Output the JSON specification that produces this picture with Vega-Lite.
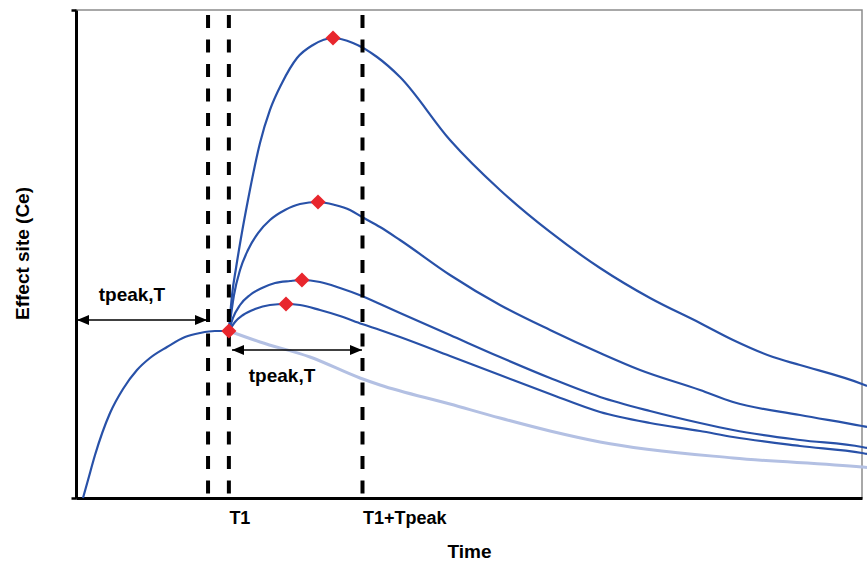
{
  "$schema": "https://vega.github.io/schema/vega-lite/v6.json",
  "width": 786,
  "height": 488,
  "autosize": "none",
  "padding": {"left": 76, "top": 10, "right": 5, "bottom": 68},
  "background": "white",
  "config": {
    "view": {"stroke": "#8c8c8c", "strokeWidth": 1.5},
    "axis": {"grid": false},
    "text": {"font": "Liberation Sans"}
  },
  "datasets": {
    "curves": [
      {"series": "induction", "t": 0.89, "ce": 0},
      {"series": "induction", "t": 1.53, "ce": 3.69},
      {"series": "induction", "t": 2.42, "ce": 8.81},
      {"series": "induction", "t": 4.33, "ce": 17.42},
      {"series": "induction", "t": 5.98, "ce": 22.34},
      {"series": "induction", "t": 7.76, "ce": 26.23},
      {"series": "induction", "t": 9.41, "ce": 28.69},
      {"series": "induction", "t": 11.58, "ce": 30.94},
      {"series": "induction", "t": 13.87, "ce": 32.99},
      {"series": "induction", "t": 15.78, "ce": 33.81},
      {"series": "induction", "t": 17.68, "ce": 34.22},
      {"series": "induction", "t": 19.45, "ce": 34.22},

      {"series": "no second dose", "t": 19.45, "ce": 34.22},
      {"series": "no second dose", "t": 23.41, "ce": 31.97},
      {"series": "no second dose", "t": 29.77, "ce": 28.89},
      {"series": "no second dose", "t": 36.13, "ce": 24.59},
      {"series": "no second dose", "t": 38.68, "ce": 23.16},
      {"series": "no second dose", "t": 47.58, "ce": 19.26},
      {"series": "no second dose", "t": 53.94, "ce": 16.39},
      {"series": "no second dose", "t": 60.31, "ce": 13.73},
      {"series": "no second dose", "t": 66.67, "ce": 11.48},
      {"series": "no second dose", "t": 83.59, "ce": 8.2},
      {"series": "no second dose", "t": 100, "ce": 6.35},
      {"series": "no second dose", "t": 100.64, "ce": 6.25},

      {"series": "dose 4", "t": 19.45, "ce": 34.22},
      {"series": "dose 4", "t": 19.85, "ce": 41.6},
      {"series": "dose 4", "t": 20.36, "ce": 47.13},
      {"series": "dose 4", "t": 20.99, "ce": 53.28},
      {"series": "dose 4", "t": 21.88, "ce": 61.07},
      {"series": "dose 4", "t": 23.41, "ce": 72.75},
      {"series": "dose 4", "t": 24.68, "ce": 79.51},
      {"series": "dose 4", "t": 26.21, "ce": 85.04},
      {"series": "dose 4", "t": 28.12, "ce": 90.16},
      {"series": "dose 4", "t": 30.15, "ce": 92.83},
      {"series": "dose 4", "t": 32.7, "ce": 94.26},
      {"series": "dose 4", "t": 35.24, "ce": 93.24},
      {"series": "dose 4", "t": 38.3, "ce": 90.37},
      {"series": "dose 4", "t": 41.22, "ce": 86.27},
      {"series": "dose 4", "t": 47.58, "ce": 73.36},
      {"series": "dose 4", "t": 53.94, "ce": 63.11},
      {"series": "dose 4", "t": 60.31, "ce": 54.51},
      {"series": "dose 4", "t": 66.67, "ce": 47.13},
      {"series": "dose 4", "t": 73.03, "ce": 40.98},
      {"series": "dose 4", "t": 79.39, "ce": 35.86},
      {"series": "dose 4", "t": 83.59, "ce": 32.38},
      {"series": "dose 4", "t": 88.68, "ce": 28.89},
      {"series": "dose 4", "t": 92.11, "ce": 27.25},
      {"series": "dose 4", "t": 100, "ce": 23.36},
      {"series": "dose 4", "t": 100.64, "ce": 22.95},

      {"series": "dose 3", "t": 19.45, "ce": 34.22},
      {"series": "dose 3", "t": 20.1, "ce": 41.6},
      {"series": "dose 3", "t": 20.87, "ce": 46.72},
      {"series": "dose 3", "t": 21.88, "ce": 50.82},
      {"series": "dose 3", "t": 23.16, "ce": 54.3},
      {"series": "dose 3", "t": 24.68, "ce": 56.97},
      {"series": "dose 3", "t": 26.59, "ce": 59.02},
      {"series": "dose 3", "t": 28.5, "ce": 60.25},
      {"series": "dose 3", "t": 30.79, "ce": 60.66},
      {"series": "dose 3", "t": 32.95, "ce": 60.04},
      {"series": "dose 3", "t": 34.86, "ce": 59.02},
      {"series": "dose 3", "t": 36.39, "ce": 57.58},
      {"series": "dose 3", "t": 38.68, "ce": 55.53},
      {"series": "dose 3", "t": 41.22, "ce": 52.87},
      {"series": "dose 3", "t": 47.58, "ce": 45.7},
      {"series": "dose 3", "t": 53.94, "ce": 39.55},
      {"series": "dose 3", "t": 60.31, "ce": 34.43},
      {"series": "dose 3", "t": 66.67, "ce": 29.71},
      {"series": "dose 3", "t": 71.76, "ce": 26.23},
      {"series": "dose 3", "t": 79.39, "ce": 22.13},
      {"series": "dose 3", "t": 83.59, "ce": 19.67},
      {"series": "dose 3", "t": 92.11, "ce": 17.01},
      {"series": "dose 3", "t": 100, "ce": 14.75},
      {"series": "dose 3", "t": 100.64, "ce": 14.55},

      {"series": "dose 2", "t": 19.45, "ce": 34.22},
      {"series": "dose 2", "t": 19.97, "ce": 36.89},
      {"series": "dose 2", "t": 20.87, "ce": 39.55},
      {"series": "dose 2", "t": 22.14, "ce": 41.6},
      {"series": "dose 2", "t": 23.66, "ce": 43.03},
      {"series": "dose 2", "t": 25.32, "ce": 44.06},
      {"series": "dose 2", "t": 27.23, "ce": 44.47},
      {"series": "dose 2", "t": 28.75, "ce": 44.67},
      {"series": "dose 2", "t": 31.04, "ce": 44.26},
      {"series": "dose 2", "t": 33.59, "ce": 43.03},
      {"series": "dose 2", "t": 36.39, "ce": 41.39},
      {"series": "dose 2", "t": 38.68, "ce": 39.75},
      {"series": "dose 2", "t": 41.22, "ce": 37.91},
      {"series": "dose 2", "t": 47.58, "ce": 33.4},
      {"series": "dose 2", "t": 53.94, "ce": 28.89},
      {"series": "dose 2", "t": 60.31, "ce": 24.59},
      {"series": "dose 2", "t": 66.67, "ce": 20.7},
      {"series": "dose 2", "t": 73.03, "ce": 17.83},
      {"series": "dose 2", "t": 79.39, "ce": 15.37},
      {"series": "dose 2", "t": 83.59, "ce": 13.93},
      {"series": "dose 2", "t": 92.11, "ce": 11.89},
      {"series": "dose 2", "t": 100, "ce": 10.45},
      {"series": "dose 2", "t": 100.64, "ce": 10.25},

      {"series": "dose 1", "t": 19.45, "ce": 34.22},
      {"series": "dose 1", "t": 20.23, "ce": 36.07},
      {"series": "dose 1", "t": 21.25, "ce": 37.5},
      {"series": "dose 1", "t": 22.77, "ce": 38.73},
      {"series": "dose 1", "t": 24.68, "ce": 39.55},
      {"series": "dose 1", "t": 26.72, "ce": 39.75},
      {"series": "dose 1", "t": 28.5, "ce": 39.55},
      {"series": "dose 1", "t": 31.04, "ce": 38.52},
      {"series": "dose 1", "t": 33.59, "ce": 37.3},
      {"series": "dose 1", "t": 36.39, "ce": 35.66},
      {"series": "dose 1", "t": 38.68, "ce": 34.43},
      {"series": "dose 1", "t": 41.22, "ce": 32.99},
      {"series": "dose 1", "t": 47.58, "ce": 29.1},
      {"series": "dose 1", "t": 53.94, "ce": 25.2},
      {"series": "dose 1", "t": 60.31, "ce": 21.31},
      {"series": "dose 1", "t": 66.67, "ce": 17.62},
      {"series": "dose 1", "t": 73.03, "ce": 15.37},
      {"series": "dose 1", "t": 79.39, "ce": 13.73},
      {"series": "dose 1", "t": 83.59, "ce": 12.5},
      {"series": "dose 1", "t": 92.11, "ce": 10.66},
      {"series": "dose 1", "t": 100, "ce": 9.22},
      {"series": "dose 1", "t": 100.64, "ce": 9.02}
    ],
    "peaks": [
      {"series": "T1", "t": 19.45, "ce": 34.22},
      {"series": "dose 4", "t": 32.7, "ce": 94.26},
      {"series": "dose 3", "t": 30.79, "ce": 60.66},
      {"series": "dose 2", "t": 28.75, "ce": 44.67},
      {"series": "dose 1", "t": 26.72, "ce": 39.75}
    ],
    "markers": [
      {"name": "tpeak", "t": 16.8},
      {"name": "T1", "t": 19.45},
      {"name": "T1+Tpeak", "t": 36.45}
    ],
    "spans": [
      {"from": 0.13, "to": 16.67, "ce": 36.48},
      {"from": 19.85, "to": 36.39, "ce": 30.33}
    ],
    "heads": [
      {"t": 0.13, "ce": 36.48, "dir": "left"},
      {"t": 16.67, "ce": 36.48, "dir": "right"},
      {"t": 19.85, "ce": 30.33, "dir": "left"},
      {"t": 36.39, "ce": 30.33, "dir": "right"}
    ],
    "notes": [
      {"t": 7.12, "ce": 40.37, "text": "tpeak,T"},
      {"t": 26.21, "ce": 23.77, "text": "tpeak,T"}
    ]
  },
  "layer": [
    {
      "data": {"name": "curves"},
      "transform": [{"filter": "datum.series === 'no second dose'"}],
      "mark": {"type": "line", "color": "#b3c0e3", "strokeWidth": 3, "interpolate": "monotone"},
      "encoding": {
        "x": {
          "field": "t", "type": "quantitative",
          "scale": {"domain": [0, 100], "nice": false, "zero": false},
          "axis": {
            "title": "Time",
            "values": [19.45, 36.45],
            "labelExpr": "datum.value < 30 ? 'T1' : 'T1+Tpeak'",
            "domainColor": "black", "domainWidth": 3,
            "ticks": false, "tickSize": 0,
            "labelAlign": "left", "labelDx": -3, "labelBaseline": "alphabetic",
            "labelPadding": 25,
            "labelFont": "Liberation Sans", "labelFontWeight": "bold",
            "labelFontSize": 18, "labelColor": "black",
            "titleFont": "Liberation Sans", "titleFontWeight": "bold",
            "titleFontSize": 19, "titleColor": "black",
            "titleBaseline": "alphabetic", "titleY": 59
          }
        },
        "y": {
          "field": "ce", "type": "quantitative",
          "scale": {"domain": [0, 100], "nice": false},
          "axis": {
            "title": "Effect site (Ce)",
            "values": [0, 100],
            "labels": false,
            "domainColor": "black", "domainWidth": 3,
            "tickColor": "black", "tickWidth": 2.5, "tickSize": 5,
            "titleFont": "Liberation Sans", "titleFontWeight": "bold",
            "titleFontSize": 19, "titleColor": "black",
            "titleBaseline": "alphabetic", "titleX": -48, "titleY": 243
          }
        }
      }
    },
    {
      "data": {"name": "curves"},
      "transform": [{"filter": "datum.series !== 'no second dose'"}],
      "mark": {"type": "line", "color": "#2851a8", "strokeWidth": 2.2, "interpolate": "monotone"},
      "encoding": {
        "x": {"field": "t", "type": "quantitative"},
        "y": {"field": "ce", "type": "quantitative"},
        "detail": {"field": "series"}
      }
    },
    {
      "data": {"name": "markers"},
      "mark": {"type": "rule", "color": "black", "strokeWidth": 4, "strokeDash": [13, 11.5], "strokeDashOffset": 19.5},
      "encoding": {
        "x": {"field": "t", "type": "quantitative"}
      }
    },
    {
      "data": {"name": "spans"},
      "mark": {"type": "rule", "color": "black", "strokeWidth": 1.3},
      "encoding": {
        "x": {"field": "from", "type": "quantitative"},
        "x2": {"field": "to"},
        "y": {"field": "ce", "type": "quantitative"}
      }
    },
    {
      "data": {"name": "heads"},
      "mark": {"type": "point", "filled": true, "color": "black", "opacity": 1, "size": 576, "strokeWidth": 0},
      "encoding": {
        "x": {"field": "t", "type": "quantitative"},
        "y": {"field": "ce", "type": "quantitative"},
        "shape": {
          "field": "dir", "type": "nominal", "legend": null,
          "scale": {"domain": ["left", "right"], "range": ["M0,0L1,-0.42L1,0.42Z", "M0,0L-1,-0.42L-1,0.42Z"]}
        }
      }
    },
    {
      "data": {"name": "notes"},
      "mark": {"type": "text", "font": "Liberation Sans", "fontWeight": "bold", "fontSize": 19, "color": "black", "align": "center", "baseline": "alphabetic"},
      "encoding": {
        "x": {"field": "t", "type": "quantitative"},
        "y": {"field": "ce", "type": "quantitative"},
        "text": {"field": "text"}
      }
    },
    {
      "data": {"name": "peaks"},
      "mark": {"type": "point", "shape": "diamond", "filled": true, "color": "#e8262d", "opacity": 1, "size": 230, "strokeWidth": 0},
      "encoding": {
        "x": {"field": "t", "type": "quantitative"},
        "y": {"field": "ce", "type": "quantitative"}
      }
    }
  ]
}
